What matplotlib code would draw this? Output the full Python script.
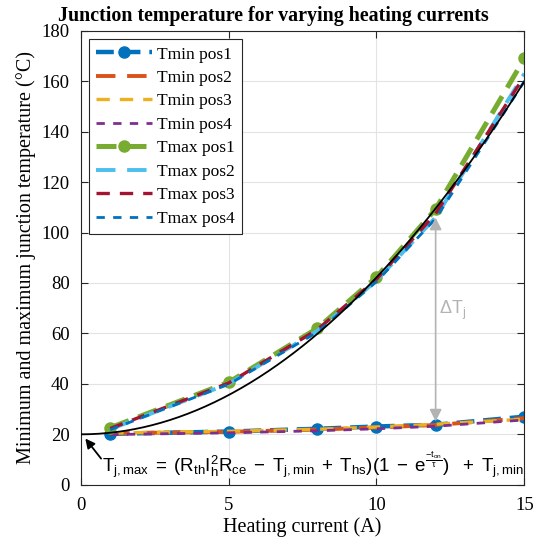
import numpy as np
from matplotlib import pyplot as plt

plt.rcParams['font.family'] = 'Liberation Serif'
plt.rcParams['mathtext.fontset'] = 'custom'
plt.rcParams['mathtext.rm'] = 'Liberation Sans'
plt.rcParams['mathtext.it'] = 'Liberation Sans'
plt.rcParams['mathtext.bf'] = 'Liberation Sans:bold'

# heating currents (A)
current = [1, 5, 8, 10, 12, 15]

# minimum junction temperature per position (°C)
tmin_pos1 = [20.2, 21.1, 22.2, 23.1, 23.8, 27.0]
tmin_pos2 = [20.4, 21.0, 21.9, 22.7, 23.7, 26.4]
tmin_pos3 = [20.5, 21.2, 22.0, 22.9, 24.0, 26.0]
tmin_pos4 = [19.9, 20.6, 21.4, 22.2, 23.2, 25.7]

# maximum junction temperature per position (°C)
tmax_pos1 = [22.6, 40.6, 62.0, 82.3, 109.3, 169.0]
tmax_pos2 = [22.0, 40.0, 61.0, 81.0, 106.0, 163.0]
tmax_pos3 = [22.3, 40.3, 61.5, 81.5, 107.5, 162.0]
tmax_pos4 = [21.8, 39.8, 60.5, 80.5, 105.5, 160.0]

# thermal model: T = Tj,min + k*I^2
model_tmin = 20.0
model_k = 0.622

blue = '#0072BD'
orange = '#D95319'
yellow = '#EDB120'
purple = '#7E2F8E'
green = '#77AC30'
lightblue = '#4DBEEE'
red = '#A2142F'

fig = plt.figure(figsize=(5.34, 5.49), dpi=100)
ax = fig.add_axes([0.151, 0.117, 0.831, 0.827])

ax.plot(current, tmin_pos1, color=blue, lw=3.2, ls=(0, (4, 2)), marker='o', ms=8, label='Tmin pos1')
ax.plot(current, tmin_pos2, color=orange, lw=2.8, ls=(0, (5, 3)), label='Tmin pos2')
ax.plot(current, tmin_pos3, color=yellow, lw=2.4, ls=(0, (4, 3)), label='Tmin pos3')
ax.plot(current, tmin_pos4, color=purple, lw=2.0, ls=(0, (3, 3)), label='Tmin pos4')
ax.plot(current, tmax_pos1, color=green, lw=3.6, ls=(0, (4, 2)), marker='o', ms=8, label='Tmax pos1')
ax.plot(current, tmax_pos2, color=lightblue, lw=2.8, ls=(0, (5, 3)), label='Tmax pos2')
ax.plot(current, tmax_pos3, color=red, lw=2.4, ls=(0, (4, 3)), label='Tmax pos3')
ax.plot(current, tmax_pos4, color=blue, lw=2.0, ls=(0, (3, 3)), label='Tmax pos4')

xs = np.linspace(0, 15, 200)
ax.plot(xs, model_tmin + model_k * xs**2, color='black', lw=1.3, zorder=5)

# delta Tj double arrow at 12 A
ax.annotate('', xy=(12, 107), xytext=(12, 24),
            arrowprops=dict(arrowstyle='<|-|>', color='#b3b3b3', lw=1.2, mutation_scale=18))
ax.text(12.1, 69, r'$\Delta\mathregular{T_j}$', color='#b3b3b3', fontsize=13,
        family='Liberation Sans', va='center')

ax.annotate('', xy=(0.1, 19.2), xytext=(0.75, 9.5),
            arrowprops=dict(arrowstyle='-|>', color='black', lw=1.3, mutation_scale=14))
formula = (r'$\mathregular{T_{j,max}\;=\;(R_{th}I_h^2R_{ce}\;-\;T_{j,min}\;+\;T_{hs})'
           r'(1\;-\;e^{\frac{-t_{on}}{\tau}})\ \ +\;T_{j,min}}$')
ax.text(0.72, 8, formula, fontsize=13.5, family='Liberation Sans', va='center')

ax.set_xlim(0, 15)
ax.set_ylim(0, 180)
ax.set_xticks([0, 5, 10, 15])
ax.set_yticks(range(0, 181, 20))
ax.grid(True, color='#e3e3e3', lw=0.8)
ax.set_axisbelow(True)
ax.tick_params(direction='in', top=True, right=True, labelsize=13.5, length=5, color='#262626')
ax.tick_params(axis='x', pad=9)
ax.tick_params(axis='y', pad=8)
for s in ax.spines.values():
    s.set_color('#262626')

ax.set_xlabel('Heating current (A)', fontsize=14.5, labelpad=2)
ax.set_ylabel('Minimum and maximum junction temperature (°C)', fontsize=14.5, labelpad=4)
fig.text(0.512, 0.97, 'Junction temperature for varying heating currents', fontsize=14.4,
         fontweight='bold', ha='center', va='center')

leg = ax.legend(loc='upper left', fontsize=12.5, handlelength=3.2, fancybox=False, framealpha=1,
                edgecolor='#262626', borderaxespad=0.5, labelspacing=0.42, handletextpad=0.3)
leg.get_frame().set_linewidth(0.8)

fig.savefig('out.png', dpi=100)
